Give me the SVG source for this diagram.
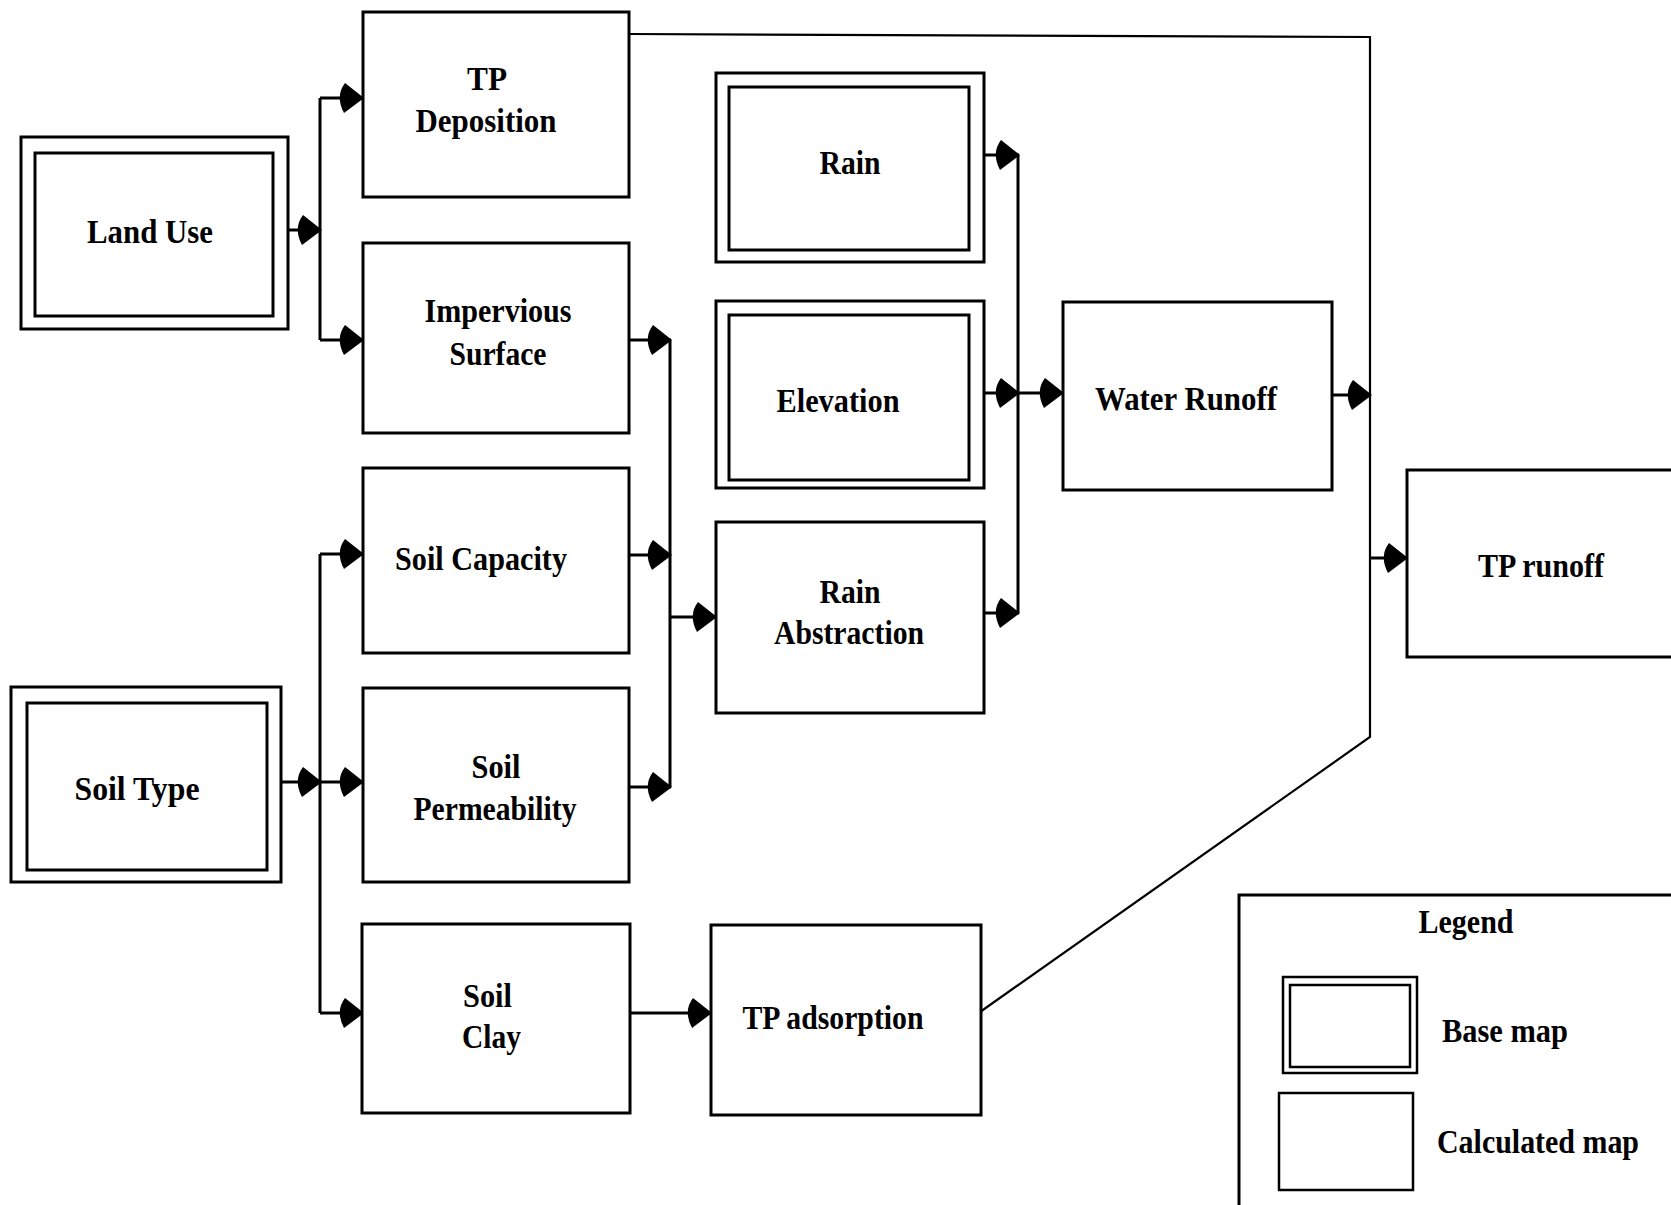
<svg xmlns="http://www.w3.org/2000/svg" width="1671" height="1205" viewBox="0 0 1671 1205">
<style>
.box{fill:#fff;stroke:#000;stroke-width:3}
.lg{fill:#fff;stroke:#000;stroke-width:2.5}
.c{fill:none;stroke:#000;stroke-width:3}
.thin{fill:none;stroke:#000;stroke-width:2.2}
text{font-family:"Liberation Serif","Times New Roman",serif;font-weight:bold;font-size:33px;fill:#000}
.m{text-anchor:middle}
</style>
<defs>
<marker id="ah" markerUnits="userSpaceOnUse" viewBox="-28 -17 30 34" refX="0" refY="0" markerWidth="30" markerHeight="34" orient="auto">
<path d="M1,0 L-18,-15 Q-28,-2 -19,15 Z" fill="#000"/>
</marker>
</defs>
<rect width="1671" height="1205" fill="#fff"/>

<g id="connectors">
<path class="c" d="M288,230 H321" marker-end="url(#ah)"/>
<path class="c" d="M320,98 V340"/>
<path class="c" d="M320,98 H363" marker-end="url(#ah)"/>
<path class="c" d="M320,340 H363" marker-end="url(#ah)"/>
<path class="c" d="M630,340 H671" marker-end="url(#ah)"/>
<path class="c" d="M670,340 V787"/>
<path class="c" d="M630,555 H671" marker-end="url(#ah)"/>
<path class="c" d="M630,787 H671" marker-end="url(#ah)"/>
<path class="c" d="M670,617 H716" marker-end="url(#ah)"/>
<path class="c" d="M281,782 H321" marker-end="url(#ah)"/>
<path class="c" d="M320,554 V1013"/>
<path class="c" d="M320,554 H363" marker-end="url(#ah)"/>
<path class="c" d="M320,782 H363" marker-end="url(#ah)"/>
<path class="c" d="M320,1013 H363" marker-end="url(#ah)"/>
<path class="c" d="M630,1013 H711" marker-end="url(#ah)"/>
<path class="c" d="M984,155 H1019" marker-end="url(#ah)"/>
<path class="c" d="M1018,155 V613"/>
<path class="c" d="M984,393 H1019" marker-end="url(#ah)"/>
<path class="c" d="M984,613 H1019" marker-end="url(#ah)"/>
<path class="c" d="M1018,393 H1063" marker-end="url(#ah)"/>
<path class="c" d="M1332,395 H1371" marker-end="url(#ah)"/>
<path class="thin" d="M629,34 L1370,37 V737 L980,1012"/>
<path class="c" d="M1370,558 H1407" marker-end="url(#ah)"/>
</g>

<g id="land-use">
<rect class="box" x="21" y="137" width="267" height="192"/>
<rect class="box" x="35" y="153" width="238" height="163"/>
<text x="150" y="243" class="m" textLength="126" lengthAdjust="spacingAndGlyphs">Land Use</text>
</g>

<g id="tp-deposition">
<rect class="box" x="363" y="12" width="266" height="185"/>
<text x="487" y="90" class="m" textLength="40" lengthAdjust="spacingAndGlyphs">TP</text>
<text x="486" y="132" class="m" textLength="141" lengthAdjust="spacingAndGlyphs">Deposition</text>
</g>

<g id="impervious-surface">
<rect class="box" x="363" y="243" width="266" height="190"/>
<text x="498" y="322" class="m" textLength="147" lengthAdjust="spacingAndGlyphs">Impervious</text>
<text x="498" y="365" class="m" textLength="97" lengthAdjust="spacingAndGlyphs">Surface</text>
</g>

<g id="soil-capacity">
<rect class="box" x="363" y="468" width="266" height="185"/>
<text x="481" y="570" class="m" textLength="172" lengthAdjust="spacingAndGlyphs">Soil Capacity</text>
</g>

<g id="soil-permeability">
<rect class="box" x="363" y="688" width="266" height="194"/>
<text x="496" y="778" class="m" textLength="49" lengthAdjust="spacingAndGlyphs">Soil</text>
<text x="495" y="820" class="m" textLength="163" lengthAdjust="spacingAndGlyphs">Permeability</text>
</g>

<g id="soil-type">
<rect class="box" x="11" y="687" width="270" height="195"/>
<rect class="box" x="27" y="703" width="240" height="167"/>
<text x="137" y="800" class="m" textLength="125" lengthAdjust="spacingAndGlyphs">Soil Type</text>
</g>

<g id="soil-clay">
<rect class="box" x="362" y="924" width="268" height="189"/>
<text x="463" y="1007" textLength="49" lengthAdjust="spacingAndGlyphs">Soil</text>
<text x="462" y="1048" textLength="59" lengthAdjust="spacingAndGlyphs">Clay</text>
</g>

<g id="rain">
<rect class="box" x="716" y="73" width="268" height="189"/>
<rect class="box" x="729" y="87" width="240" height="163"/>
<text x="850" y="174" class="m" textLength="61" lengthAdjust="spacingAndGlyphs">Rain</text>
</g>

<g id="elevation">
<rect class="box" x="716" y="301" width="268" height="187"/>
<rect class="box" x="729" y="315" width="240" height="165"/>
<text x="838" y="412" class="m" textLength="123" lengthAdjust="spacingAndGlyphs">Elevation</text>
</g>

<g id="rain-abstraction">
<rect class="box" x="716" y="522" width="268" height="191"/>
<text x="850" y="603" class="m" textLength="61" lengthAdjust="spacingAndGlyphs">Rain</text>
<text x="849" y="644" class="m" textLength="150" lengthAdjust="spacingAndGlyphs">Abstraction</text>
</g>

<g id="water-runoff">
<rect class="box" x="1063" y="302" width="269" height="188"/>
<text x="1186" y="410" class="m" textLength="182" lengthAdjust="spacingAndGlyphs">Water Runoff</text>
</g>

<g id="tp-adsorption">
<rect class="box" x="711" y="925" width="270" height="190"/>
<text x="833" y="1029" class="m" textLength="181" lengthAdjust="spacingAndGlyphs">TP adsorption</text>
</g>

<g id="tp-runoff">
<rect class="box" x="1407" y="470" width="300" height="187"/>
<text x="1541" y="577" class="m" textLength="126" lengthAdjust="spacingAndGlyphs">TP runoff</text>
</g>

<g id="legend">
<rect class="box" x="1239" y="895" width="470" height="330"/>
<text x="1466" y="933" class="m" textLength="95" lengthAdjust="spacingAndGlyphs">Legend</text>
<rect class="lg" x="1283" y="977" width="134" height="96"/>
<rect class="lg" x="1290" y="985" width="120" height="82"/>
<text x="1442" y="1042" textLength="126" lengthAdjust="spacingAndGlyphs">Base map</text>
<rect class="lg" x="1279" y="1093" width="134" height="97"/>
<text x="1437" y="1153" textLength="202" lengthAdjust="spacingAndGlyphs">Calculated map</text>
</g>
</svg>
